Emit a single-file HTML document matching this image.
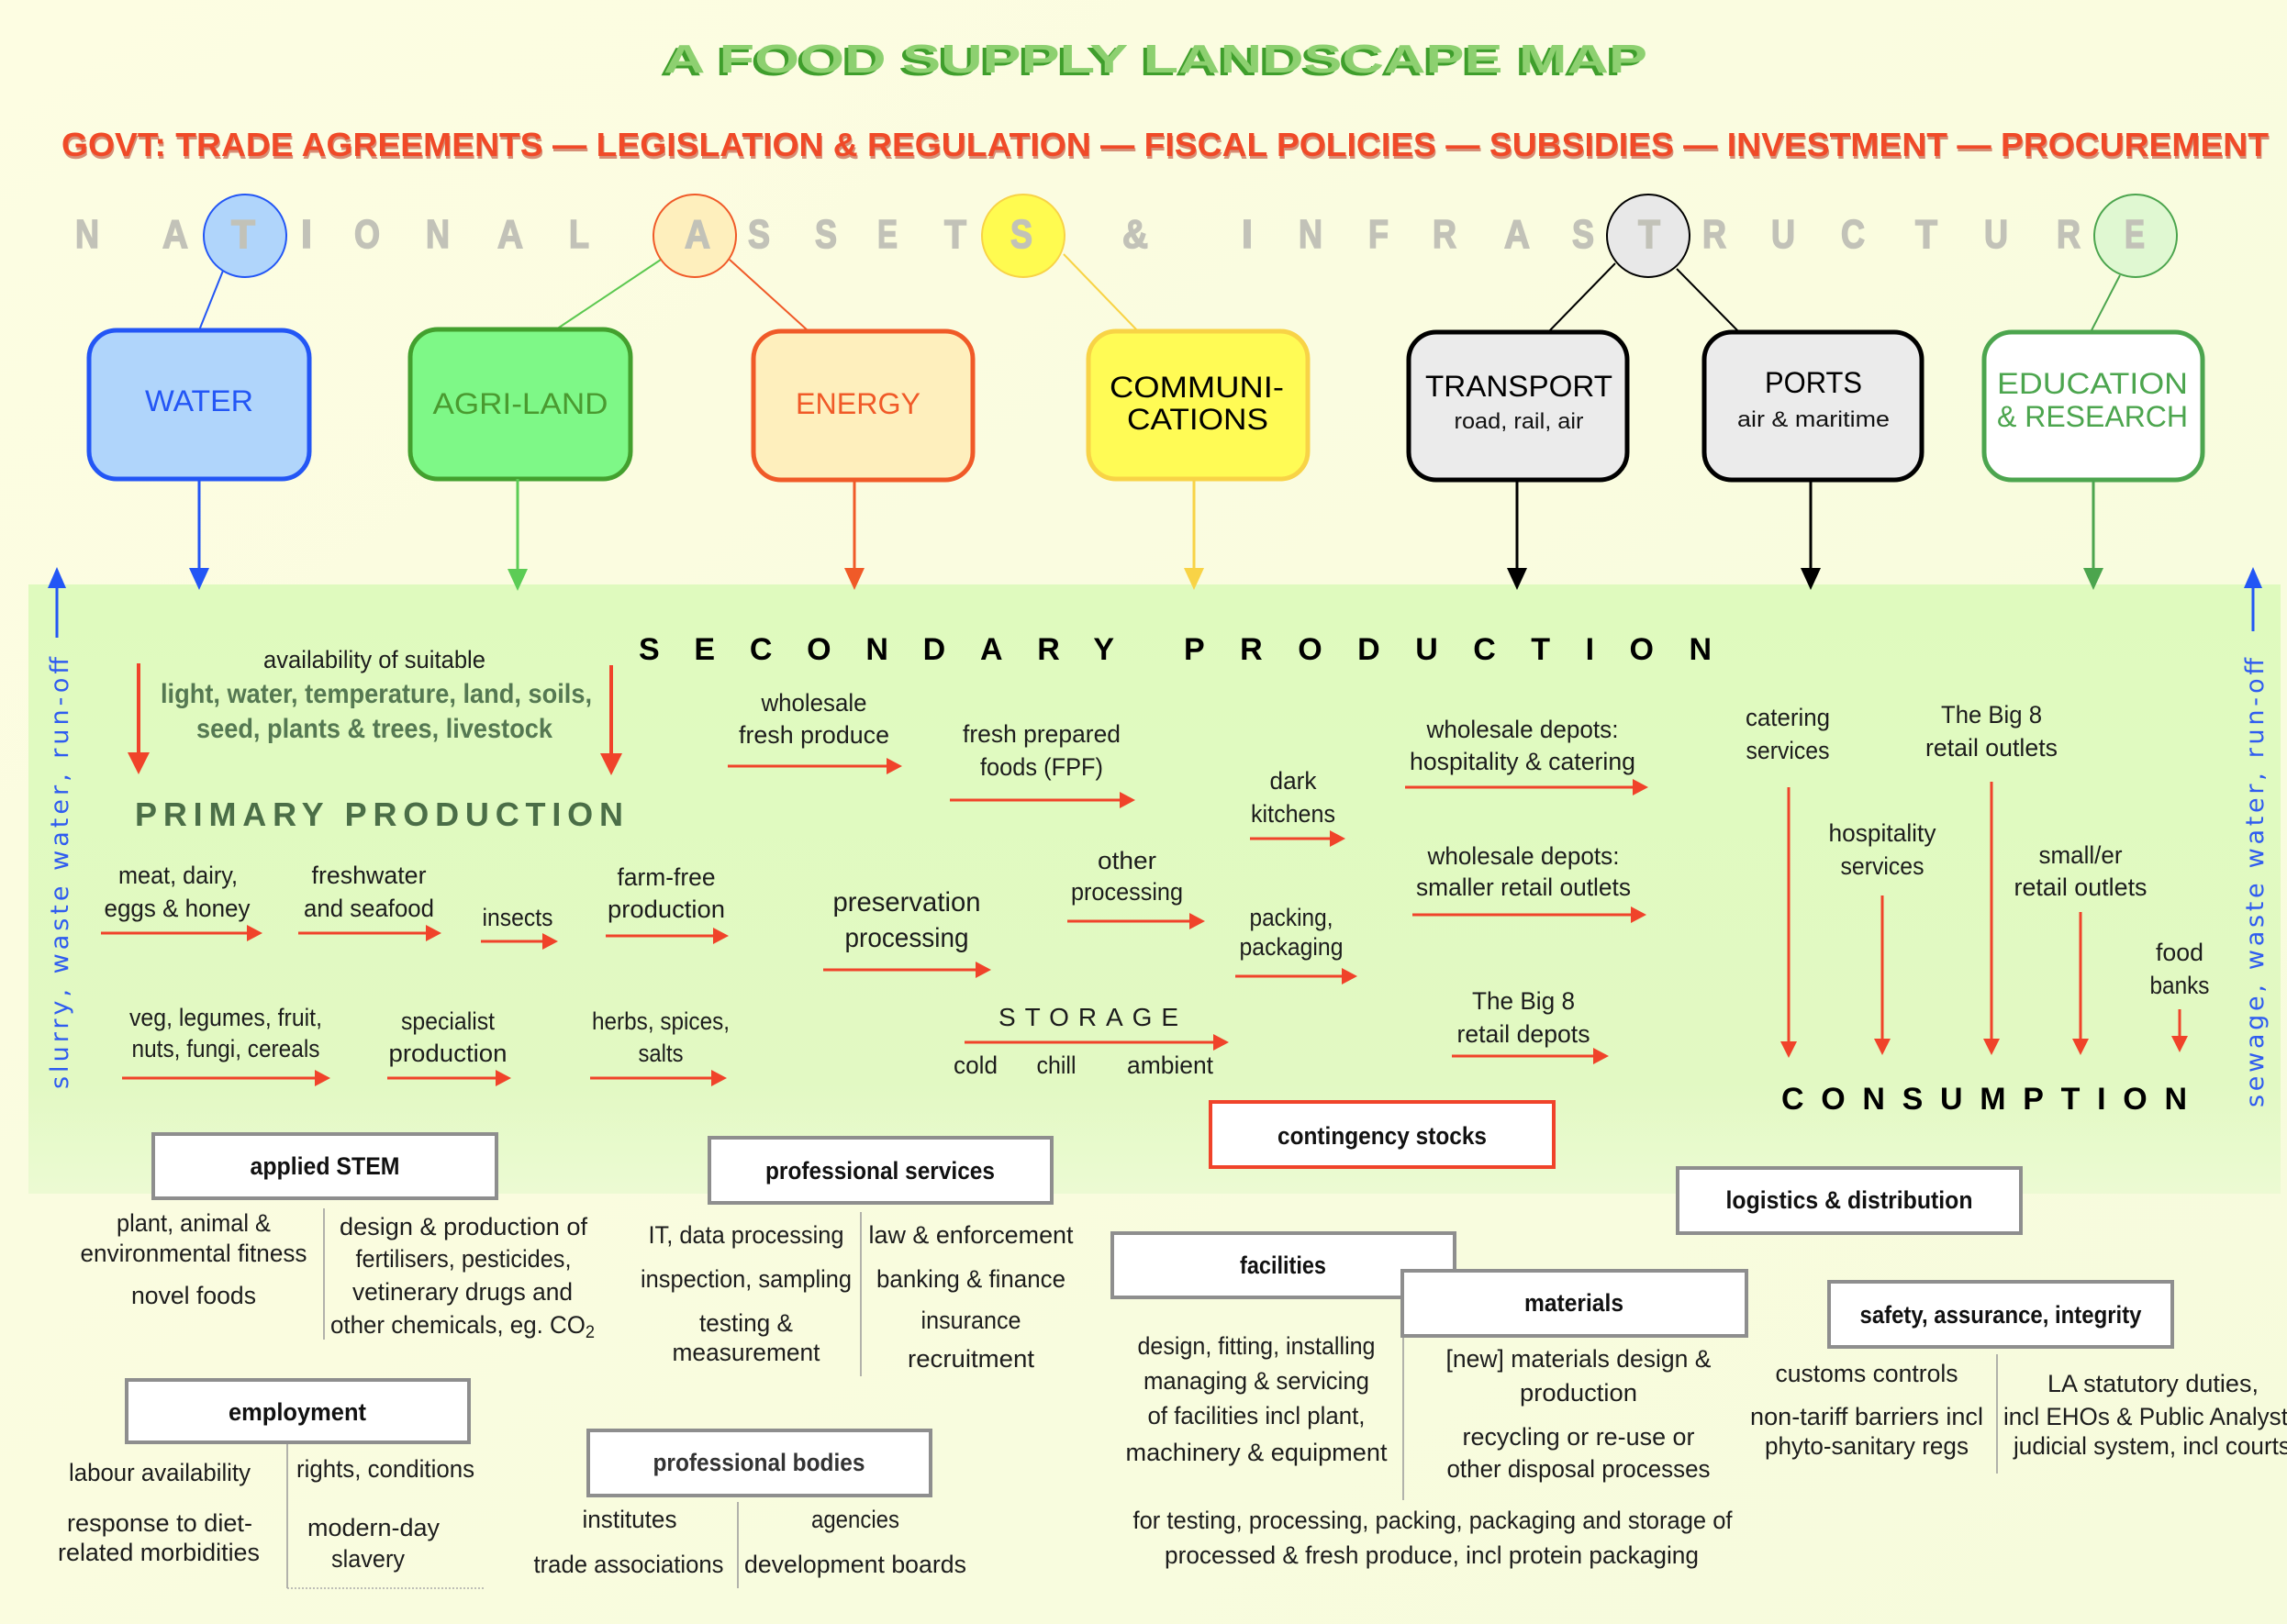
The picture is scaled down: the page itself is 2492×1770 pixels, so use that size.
<!DOCTYPE html>
<html><head><meta charset="utf-8"><style>
html,body{margin:0;padding:0;background:#fdfde0;}
body{width:2492px;height:1770px;overflow:hidden;}
svg{display:block;}
.t{font-size:27px;fill:#1c1c1c;text-anchor:middle;}
.ts{font-size:27px;fill:#1c1c1c;}
.g{font-size:30px;font-weight:bold;fill:#557852;text-anchor:middle;}
.bl{font-size:27px;font-weight:bold;fill:#111;text-anchor:middle;}
.bx{fill:#fff;stroke:#8e8e8e;stroke-width:4;}
.dv{stroke:#9a9a9a;stroke-width:1.5;}
.ra{stroke:#f0432a;stroke-width:3;fill:none;}
.rh{fill:#f0432a;}
.big{font-size:32px;text-anchor:middle;}
.nl{font-size:44px;font-weight:bold;fill:#c2c2b8;stroke:#c2c2b8;stroke-width:1.6;text-anchor:middle;}
</style></head><body>
<svg width="2492" height="1770" viewBox="0 0 2492 1770" xmlns="http://www.w3.org/2000/svg" font-family="'Liberation Sans', sans-serif">
<defs>
<linearGradient id="bg" x1="0" y1="0" x2="1" y2="1">
<stop offset="0" stop-color="#fdfde2"/><stop offset="1" stop-color="#f6fbdc"/>
</linearGradient>
<linearGradient id="gr" x1="0" y1="0" x2="0" y2="1">
<stop offset="0" stop-color="#dffabe"/><stop offset="0.82" stop-color="#e2f9c3"/><stop offset="1" stop-color="#ecfad3"/>
</linearGradient>
</defs>
<rect x="0" y="0" width="2492" height="1770" fill="url(#bg)"/>
<rect x="31" y="637" width="2454" height="664" fill="url(#gr)"/>

<!-- Title -->
<text x="1255" y="82" text-anchor="middle" font-size="44" font-weight="bold" fill="#3f9e2c" textLength="1072" lengthAdjust="spacingAndGlyphs">A FOOD SUPPLY LANDSCAPE MAP</text>
<text x="1259" y="79" text-anchor="middle" font-size="44" font-weight="bold" fill="#8dd070" textLength="1072" lengthAdjust="spacingAndGlyphs">A FOOD SUPPLY LANDSCAPE MAP</text>

<!-- Govt line -->
<text x="68" y="173" font-size="36" font-weight="bold" fill="#b83420" opacity="0.55" textLength="2405" lengthAdjust="spacingAndGlyphs">GOVT: TRADE AGREEMENTS — LEGISLATION &amp; REGULATION — FISCAL POLICIES — SUBSIDIES — INVESTMENT — PROCUREMENT</text>
<text x="67" y="170" font-size="36" font-weight="bold" fill="#f04a28" textLength="2405" lengthAdjust="spacingAndGlyphs">GOVT: TRADE AGREEMENTS — LEGISLATION &amp; REGULATION — FISCAL POLICIES — SUBSIDIES — INVESTMENT — PROCUREMENT</text>

<!-- connector lines circles->boxes -->
<line x1="243" y1="295" x2="217" y2="360" stroke="#2356f5" stroke-width="2"/>
<line x1="720" y1="283" x2="606" y2="359" stroke="#5cc850" stroke-width="2"/>
<line x1="795" y1="283" x2="881" y2="361" stroke="#f05a28" stroke-width="2"/>
<line x1="1159" y1="277" x2="1240" y2="361" stroke="#f8d346" stroke-width="2"/>
<line x1="1760" y1="287" x2="1687" y2="362" stroke="#000" stroke-width="2"/>
<line x1="1827" y1="293" x2="1895" y2="362" stroke="#000" stroke-width="2"/>
<line x1="2310" y1="300" x2="2278" y2="362" stroke="#4ca54e" stroke-width="2"/>

<!-- circles -->
<circle cx="267" cy="257" r="45" fill="#b0d5fb" stroke="#2356f5" stroke-width="2"/>
<circle cx="757" cy="257" r="45" fill="#feefbd" stroke="#f05a28" stroke-width="2"/>
<circle cx="1115" cy="257" r="45" fill="#fffb50" stroke="#f8d346" stroke-width="2"/>
<circle cx="1796" cy="257" r="45" fill="#e8e8e8" stroke="#000" stroke-width="2"/>
<circle cx="2327" cy="257" r="45" fill="#e0f8d2" stroke="#4ca54e" stroke-width="2"/>

<!-- NATIONAL ASSETS & INFRASTRUCTURE letters -->
<g>
<text x="95" y="270" textLength="26" lengthAdjust="spacingAndGlyphs" class="nl">N</text>
<text x="191" y="270" textLength="28" lengthAdjust="spacingAndGlyphs" class="nl">A</text>
<text x="265" y="270" textLength="26" lengthAdjust="spacingAndGlyphs" class="nl">T</text>
<text x="334" y="270" class="nl">I</text>
<text x="400" y="270" textLength="28" lengthAdjust="spacingAndGlyphs" class="nl">O</text>
<text x="477" y="270" textLength="26" lengthAdjust="spacingAndGlyphs" class="nl">N</text>
<text x="556" y="270" textLength="28" lengthAdjust="spacingAndGlyphs" class="nl">A</text>
<text x="631" y="270" textLength="22" lengthAdjust="spacingAndGlyphs" class="nl">L</text>
<text x="760" y="270" textLength="28" lengthAdjust="spacingAndGlyphs" class="nl">A</text>
<text x="827" y="270" textLength="24" lengthAdjust="spacingAndGlyphs" class="nl">S</text>
<text x="900" y="270" textLength="24" lengthAdjust="spacingAndGlyphs" class="nl">S</text>
<text x="967" y="270" textLength="22" lengthAdjust="spacingAndGlyphs" class="nl">E</text>
<text x="1041" y="270" textLength="24" lengthAdjust="spacingAndGlyphs" class="nl">T</text>
<text x="1113" y="270" textLength="24" lengthAdjust="spacingAndGlyphs" class="nl">S</text>
<text x="1237" y="270" textLength="28" lengthAdjust="spacingAndGlyphs" class="nl">&amp;</text>
<text x="1359" y="270" class="nl">I</text>
<text x="1428" y="270" textLength="26" lengthAdjust="spacingAndGlyphs" class="nl">N</text>
<text x="1502" y="270" textLength="22" lengthAdjust="spacingAndGlyphs" class="nl">F</text>
<text x="1574" y="270" textLength="26" lengthAdjust="spacingAndGlyphs" class="nl">R</text>
<text x="1653" y="270" textLength="28" lengthAdjust="spacingAndGlyphs" class="nl">A</text>
<text x="1725" y="270" textLength="24" lengthAdjust="spacingAndGlyphs" class="nl">S</text>
<text x="1797" y="270" textLength="24" lengthAdjust="spacingAndGlyphs" class="nl">T</text>
<text x="1868" y="270" textLength="26" lengthAdjust="spacingAndGlyphs" class="nl">R</text>
<text x="1943" y="270" textLength="26" lengthAdjust="spacingAndGlyphs" class="nl">U</text>
<text x="2019" y="270" textLength="26" lengthAdjust="spacingAndGlyphs" class="nl">C</text>
<text x="2099" y="270" textLength="24" lengthAdjust="spacingAndGlyphs" class="nl">T</text>
<text x="2175" y="270" textLength="26" lengthAdjust="spacingAndGlyphs" class="nl">U</text>
<text x="2254" y="270" textLength="26" lengthAdjust="spacingAndGlyphs" class="nl">R</text>
<text x="2326" y="270" textLength="22" lengthAdjust="spacingAndGlyphs" class="nl">E</text>
</g>

<!-- top boxes -->
<rect x="97" y="360" width="240" height="162" rx="30" fill="#b0d5fb" stroke="#2356f5" stroke-width="5"/>
<rect x="447" y="359" width="240" height="163" rx="30" fill="#7ef887" stroke="#43a02e" stroke-width="5"/>
<rect x="821" y="361" width="239" height="162" rx="30" fill="#feefbd" stroke="#f05a28" stroke-width="5"/>
<rect x="1186" y="361" width="239" height="161" rx="30" fill="#fffb55" stroke="#f8d346" stroke-width="5"/>
<rect x="1535" y="362" width="238" height="161" rx="30" fill="#ebebeb" stroke="#000" stroke-width="5"/>
<rect x="1857" y="362" width="237" height="161" rx="30" fill="#ebebeb" stroke="#000" stroke-width="5"/>
<rect x="2162" y="362" width="238" height="161" rx="30" fill="#ffffff" stroke="#4ca54e" stroke-width="5"/>

<text class="big" x="217" y="448" fill="#2356f5" textLength="118" lengthAdjust="spacingAndGlyphs">WATER</text>
<text class="big" x="567" y="451" fill="#4a9a30" textLength="191" lengthAdjust="spacingAndGlyphs">AGRI-LAND</text>
<text class="big" x="935" y="451" fill="#f05a28" textLength="136" lengthAdjust="spacingAndGlyphs">ENERGY</text>
<text class="big" x="1304" y="433" fill="#000" textLength="190" lengthAdjust="spacingAndGlyphs">COMMUNI-</text>
<text class="big" x="1305" y="468" fill="#000" textLength="154" lengthAdjust="spacingAndGlyphs">CATIONS</text>
<text class="big" x="1655" y="432" fill="#000" textLength="204" lengthAdjust="spacingAndGlyphs">TRANSPORT</text>
<text x="1655" y="467" font-size="24" text-anchor="middle" fill="#111" textLength="141" lengthAdjust="spacingAndGlyphs">road, rail, air</text>
<text class="big" x="1976" y="428" fill="#000" textLength="106" lengthAdjust="spacingAndGlyphs">PORTS</text>
<text x="1976" y="465" font-size="24" text-anchor="middle" fill="#111" textLength="166" lengthAdjust="spacingAndGlyphs">air &amp; maritime</text>
<text class="big" x="2280" y="429" fill="#4ca54e" textLength="208" lengthAdjust="spacingAndGlyphs">EDUCATION</text>
<text class="big" x="2280" y="465" fill="#4ca54e" textLength="208" lengthAdjust="spacingAndGlyphs">&amp; RESEARCH</text>

<!-- top down arrows -->
<g stroke-width="3">
<line x1="217" y1="522" x2="217" y2="625" stroke="#2356f5"/><polygon points="217,643 206,619 228,619" fill="#2356f5"/>
<line x1="564" y1="522" x2="564" y2="625" stroke="#5ccc55"/><polygon points="564,644 553,620 575,620" fill="#5ccc55"/>
<line x1="931" y1="523" x2="931" y2="625" stroke="#f05a28"/><polygon points="931,643 920,619 942,619" fill="#f05a28"/>
<line x1="1301" y1="522" x2="1301" y2="625" stroke="#f8d346"/><polygon points="1301,643 1290,619 1312,619" fill="#f8d346"/>
<line x1="1653" y1="523" x2="1653" y2="625" stroke="#000"/><polygon points="1653,643 1642,619 1664,619" fill="#000"/>
<line x1="1973" y1="523" x2="1973" y2="625" stroke="#000"/><polygon points="1973,643 1962,619 1984,619" fill="#000"/>
<line x1="2281" y1="523" x2="2281" y2="625" stroke="#4ca54e"/><polygon points="2281,643 2270,619 2292,619" fill="#4ca54e"/>
<!-- blue up arrows -->
<line x1="62" y1="695" x2="62" y2="635" stroke="#2356f5"/><polygon points="62,618 52,641 72,641" fill="#2356f5"/>
<line x1="2455" y1="688" x2="2455" y2="635" stroke="#2356f5"/><polygon points="2455,618 2445,641 2465,641" fill="#2356f5"/>
</g>

<!-- vertical side texts -->
<text transform="translate(74,1187) rotate(-90)" font-family="'DejaVu Sans', sans-serif" font-size="27" fill="#2f5cf0" textLength="471" lengthAdjust="spacing">slurry, waste water, run-off</text>
<text transform="translate(2466,1207) rotate(-90)" font-family="'DejaVu Sans', sans-serif" font-size="27" fill="#2f5cf0" textLength="490" lengthAdjust="spacing">sewage, waste water, run-off</text>

<!-- primary production header -->
<text class="t" x="408" y="728" textLength="242" lengthAdjust="spacingAndGlyphs">availability of suitable</text>
<text class="g" x="410" y="766" textLength="470" lengthAdjust="spacingAndGlyphs">light, water, temperature, land, soils,</text>
<text class="g" x="408" y="804" textLength="388" lengthAdjust="spacingAndGlyphs">seed, plants &amp; trees, livestock</text>
<line x1="151" y1="723" x2="151" y2="825" stroke="#f0432a" stroke-width="4"/><polygon points="151,844 139,820 163,820" class="rh"/>
<line x1="666" y1="725" x2="666" y2="826" stroke="#f0432a" stroke-width="4"/><polygon points="666,845 654,821 678,821" class="rh"/>
<text x="147" y="900" font-size="36" font-weight="bold" fill="#4b6e47" textLength="532" lengthAdjust="spacing">PRIMARY PRODUCTION</text>

<!-- SECONDARY PRODUCTION -->
<text x="696" y="719" font-size="34" font-weight="bold" fill="#000" textLength="518" lengthAdjust="spacing">SECONDARY</text>
<text x="1290" y="719" font-size="34" font-weight="bold" fill="#000" textLength="575" lengthAdjust="spacing">PRODUCTION</text>

<!-- primary items -->
<text class="t" x="194" y="963" textLength="130" lengthAdjust="spacingAndGlyphs">meat, dairy,</text>
<text class="t" x="193" y="999" textLength="159" lengthAdjust="spacingAndGlyphs">eggs &amp; honey</text>
<text class="t" x="402" y="963" textLength="125" lengthAdjust="spacingAndGlyphs">freshwater</text>
<text class="t" x="402" y="999" textLength="142" lengthAdjust="spacingAndGlyphs">and seafood</text>
<text class="t" x="564" y="1009" textLength="77" lengthAdjust="spacingAndGlyphs">insects</text>
<text class="t" x="726" y="965" textLength="107" lengthAdjust="spacingAndGlyphs">farm-free</text>
<text class="t" x="726" y="1000" textLength="128" lengthAdjust="spacingAndGlyphs">production</text>
<text class="t" x="246" y="1118" textLength="210" lengthAdjust="spacingAndGlyphs">veg, legumes, fruit,</text>
<text class="t" x="246" y="1152" textLength="205" lengthAdjust="spacingAndGlyphs">nuts, fungi, cereals</text>
<text class="t" x="488" y="1122" textLength="102" lengthAdjust="spacingAndGlyphs">specialist</text>
<text class="t" x="488" y="1157" textLength="129" lengthAdjust="spacingAndGlyphs">production</text>
<text class="t" x="720" y="1122" textLength="150" lengthAdjust="spacingAndGlyphs">herbs, spices,</text>
<text class="t" x="720" y="1157" textLength="49" lengthAdjust="spacingAndGlyphs">salts</text>

<!-- secondary items -->
<text class="t" x="887" y="775" textLength="115" lengthAdjust="spacingAndGlyphs">wholesale</text>
<text class="t" x="887" y="810" textLength="164" lengthAdjust="spacingAndGlyphs">fresh produce</text>
<text class="t" x="1135" y="809" textLength="172" lengthAdjust="spacingAndGlyphs">fresh prepared</text>
<text class="t" x="1135" y="845" textLength="134" lengthAdjust="spacingAndGlyphs">foods (FPF)</text>
<text class="t" x="1409" y="860" textLength="51" lengthAdjust="spacingAndGlyphs">dark</text>
<text class="t" x="1409" y="896" textLength="92" lengthAdjust="spacingAndGlyphs">kitchens</text>
<text class="t" x="1659" y="804" textLength="209" lengthAdjust="spacingAndGlyphs">wholesale depots:</text>
<text class="t" x="1659" y="839" textLength="246" lengthAdjust="spacingAndGlyphs">hospitality &amp; catering</text>
<text class="t" x="1228" y="947" textLength="64" lengthAdjust="spacingAndGlyphs">other</text>
<text class="t" x="1228" y="981" textLength="122" lengthAdjust="spacingAndGlyphs">processing</text>
<text class="t" x="988" y="993" textLength="161" lengthAdjust="spacingAndGlyphs" style="font-size:30px">preservation</text>
<text class="t" x="988" y="1032" textLength="135" lengthAdjust="spacingAndGlyphs" style="font-size:30px">processing</text>
<text class="t" x="1407" y="1009" textLength="91" lengthAdjust="spacingAndGlyphs">packing,</text>
<text class="t" x="1407" y="1041" textLength="113" lengthAdjust="spacingAndGlyphs">packaging</text>
<text class="t" x="1660" y="942" textLength="209" lengthAdjust="spacingAndGlyphs">wholesale depots:</text>
<text class="t" x="1660" y="976" textLength="234" lengthAdjust="spacingAndGlyphs">smaller retail outlets</text>
<text x="1088" y="1118" font-size="28" fill="#1c1c1c" textLength="196" lengthAdjust="spacing">STORAGE</text>
<text class="t" x="1063" y="1170" textLength="48" lengthAdjust="spacingAndGlyphs">cold</text>
<text class="t" x="1151" y="1170" textLength="43" lengthAdjust="spacingAndGlyphs">chill</text>
<text class="t" x="1275" y="1170" textLength="94" lengthAdjust="spacingAndGlyphs">ambient</text>
<text class="t" x="1660" y="1100" textLength="112" lengthAdjust="spacingAndGlyphs">The Big 8</text>
<text class="t" x="1660" y="1136" textLength="145" lengthAdjust="spacingAndGlyphs">retail depots</text>

<!-- consumption items -->
<text class="t" x="1948" y="791" textLength="92" lengthAdjust="spacingAndGlyphs">catering</text>
<text class="t" x="1948" y="827" textLength="91" lengthAdjust="spacingAndGlyphs">services</text>
<text class="t" x="2170" y="788" textLength="110" lengthAdjust="spacingAndGlyphs">The Big 8</text>
<text class="t" x="2170" y="824" textLength="144" lengthAdjust="spacingAndGlyphs">retail outlets</text>
<text class="t" x="2051" y="917" textLength="117" lengthAdjust="spacingAndGlyphs">hospitality</text>
<text class="t" x="2051" y="953" textLength="91" lengthAdjust="spacingAndGlyphs">services</text>
<text class="t" x="2267" y="941" textLength="91" lengthAdjust="spacingAndGlyphs">small/er</text>
<text class="t" x="2267" y="976" textLength="145" lengthAdjust="spacingAndGlyphs">retail outlets</text>
<text class="t" x="2375" y="1047" textLength="52" lengthAdjust="spacingAndGlyphs">food</text>
<text class="t" x="2375" y="1083" textLength="65" lengthAdjust="spacingAndGlyphs">banks</text>
<text x="1941" y="1209" font-size="34" font-weight="bold" fill="#000" textLength="442" lengthAdjust="spacing">CONSUMPTION</text>

<!-- horizontal red arrows -->
<g>
<line class="ra" x1="110" y1="1017" x2="276" y2="1017"/><polygon class="rh" points="286,1017 269,1008 269,1026"/>
<line class="ra" x1="325" y1="1017" x2="471" y2="1017"/><polygon class="rh" points="481,1017 464,1008 464,1026"/>
<line class="ra" x1="524" y1="1026" x2="598" y2="1026"/><polygon class="rh" points="608,1026 591,1017 591,1035"/>
<line class="ra" x1="660" y1="1020" x2="784" y2="1020"/><polygon class="rh" points="794,1020 777,1011 777,1029"/>
<line class="ra" x1="133" y1="1175" x2="350" y2="1175"/><polygon class="rh" points="360,1175 343,1166 343,1184"/>
<line class="ra" x1="422" y1="1175" x2="547" y2="1175"/><polygon class="rh" points="557,1175 540,1166 540,1184"/>
<line class="ra" x1="643" y1="1175" x2="782" y2="1175"/><polygon class="rh" points="792,1175 775,1166 775,1184"/>
<line class="ra" x1="793" y1="835" x2="973" y2="835"/><polygon class="rh" points="983,835 966,826 966,844"/>
<line class="ra" x1="1035" y1="872" x2="1227" y2="872"/><polygon class="rh" points="1237,872 1220,863 1220,881"/>
<line class="ra" x1="1362" y1="914" x2="1456" y2="914"/><polygon class="rh" points="1466,914 1449,905 1449,923"/>
<line class="ra" x1="1531" y1="858" x2="1786" y2="858"/><polygon class="rh" points="1796,858 1779,849 1779,867"/>
<line class="ra" x1="1163" y1="1004" x2="1303" y2="1004"/><polygon class="rh" points="1313,1004 1296,995 1296,1013"/>
<line class="ra" x1="897" y1="1057" x2="1070" y2="1057"/><polygon class="rh" points="1080,1057 1063,1048 1063,1066"/>
<line class="ra" x1="1346" y1="1064" x2="1469" y2="1064"/><polygon class="rh" points="1479,1064 1462,1055 1462,1073"/>
<line class="ra" x1="1539" y1="997" x2="1784" y2="997"/><polygon class="rh" points="1794,997 1777,988 1777,1006"/>
<line class="ra" x1="1051" y1="1136" x2="1329" y2="1136"/><polygon class="rh" points="1339,1136 1322,1127 1322,1145"/>
<line class="ra" x1="1582" y1="1151" x2="1743" y2="1151"/><polygon class="rh" points="1753,1151 1736,1142 1736,1160"/>
</g>
<!-- vertical red arrows to consumption -->
<g>
<line class="ra" x1="1949" y1="858" x2="1949" y2="1138"/><polygon class="rh" points="1949,1153 1940,1135 1958,1135"/>
<line class="ra" x1="2051" y1="976" x2="2051" y2="1135"/><polygon class="rh" points="2051,1150 2042,1132 2060,1132"/>
<line class="ra" x1="2170" y1="852" x2="2170" y2="1135"/><polygon class="rh" points="2170,1150 2161,1132 2179,1132"/>
<line class="ra" x1="2267" y1="994" x2="2267" y2="1135"/><polygon class="rh" points="2267,1150 2258,1132 2276,1132"/>
<line class="ra" x1="2375" y1="1100" x2="2375" y2="1132"/><polygon class="rh" points="2375,1147 2366,1129 2384,1129"/>
</g>

<!-- contingency stocks -->
<rect x="1319" y="1201" width="374" height="71" fill="#fff" stroke="#f0432a" stroke-width="4"/>
<text class="bl" x="1506" y="1247" textLength="228" lengthAdjust="spacingAndGlyphs">contingency stocks</text>

<!-- applied STEM -->
<rect class="bx" x="167" y="1236" width="374" height="70"/>
<text class="bl" x="354" y="1280" textLength="163" lengthAdjust="spacingAndGlyphs">applied STEM</text>
<line class="dv" x1="353" y1="1317" x2="353" y2="1460"/>
<text class="t" x="211" y="1342" textLength="168" lengthAdjust="spacingAndGlyphs">plant, animal &amp;</text>
<text class="t" x="211" y="1375" textLength="247" lengthAdjust="spacingAndGlyphs">environmental fitness</text>
<text class="t" x="211" y="1421" textLength="136" lengthAdjust="spacingAndGlyphs">novel foods</text>
<text class="t" x="505" y="1346" textLength="270" lengthAdjust="spacingAndGlyphs">design &amp; production of</text>
<text class="t" x="505" y="1381" textLength="235" lengthAdjust="spacingAndGlyphs">fertilisers, pesticides,</text>
<text class="t" x="504" y="1417" textLength="240" lengthAdjust="spacingAndGlyphs">vetinerary drugs and</text>
<text class="t" x="504" y="1453" textLength="288" lengthAdjust="spacingAndGlyphs">other chemicals, eg. CO<tspan font-size="19" dy="5">2</tspan></text>

<!-- employment -->
<rect class="bx" x="138" y="1504" width="373" height="68"/>
<text class="bl" x="324" y="1548" textLength="150" lengthAdjust="spacingAndGlyphs">employment</text>
<line class="dv" x1="313" y1="1574" x2="313" y2="1731"/>
<line x1="313" y1="1731" x2="527" y2="1731" stroke="#aaa" stroke-width="1.5" stroke-dasharray="2,2"/>
<text class="t" x="174" y="1614" textLength="198" lengthAdjust="spacingAndGlyphs">labour availability</text>
<text class="t" x="174" y="1669" textLength="202" lengthAdjust="spacingAndGlyphs">response to diet-</text>
<text class="t" x="173" y="1701" textLength="220" lengthAdjust="spacingAndGlyphs">related morbidities</text>
<text class="t" x="420" y="1610" textLength="194" lengthAdjust="spacingAndGlyphs">rights, conditions</text>
<text class="t" x="407" y="1674" textLength="144" lengthAdjust="spacingAndGlyphs">modern-day</text>
<text class="t" x="401" y="1708" textLength="80" lengthAdjust="spacingAndGlyphs">slavery</text>

<!-- professional services -->
<rect class="bx" x="773" y="1240" width="373" height="71"/>
<text class="bl" x="959" y="1285" textLength="250" lengthAdjust="spacingAndGlyphs">professional services</text>
<line class="dv" x1="938" y1="1321" x2="938" y2="1500"/>
<text class="t" x="813" y="1355" textLength="213" lengthAdjust="spacingAndGlyphs">IT, data processing</text>
<text class="t" x="813" y="1403" textLength="230" lengthAdjust="spacingAndGlyphs">inspection, sampling</text>
<text class="t" x="813" y="1451" textLength="102" lengthAdjust="spacingAndGlyphs">testing &amp;</text>
<text class="t" x="813" y="1483" textLength="161" lengthAdjust="spacingAndGlyphs">measurement</text>
<text class="t" x="1058" y="1355" textLength="223" lengthAdjust="spacingAndGlyphs">law &amp; enforcement</text>
<text class="t" x="1058" y="1403" textLength="206" lengthAdjust="spacingAndGlyphs">banking &amp; finance</text>
<text class="t" x="1058" y="1448" textLength="109" lengthAdjust="spacingAndGlyphs">insurance</text>
<text class="t" x="1058" y="1490" textLength="138" lengthAdjust="spacingAndGlyphs">recruitment</text>

<!-- professional bodies -->
<rect class="bx" x="641" y="1559" width="373" height="71"/>
<text class="bl" x="827" y="1603" textLength="231" lengthAdjust="spacingAndGlyphs" style="fill:#333">professional bodies</text>
<line class="dv" x1="804" y1="1637" x2="804" y2="1731"/>
<text class="t" x="686" y="1665" textLength="103" lengthAdjust="spacingAndGlyphs">institutes</text>
<text class="t" x="685" y="1714" textLength="207" lengthAdjust="spacingAndGlyphs">trade associations</text>
<text class="t" x="932" y="1665" textLength="96" lengthAdjust="spacingAndGlyphs">agencies</text>
<text class="t" x="932" y="1714" textLength="242" lengthAdjust="spacingAndGlyphs">development boards</text>

<!-- facilities -->
<rect class="bx" x="1212" y="1344" width="373" height="70"/>
<text class="bl" x="1398" y="1388" textLength="94" lengthAdjust="spacingAndGlyphs">facilities</text>
<!-- materials -->
<rect class="bx" x="1528" y="1385" width="375" height="71"/>
<text class="bl" x="1715" y="1429" textLength="108" lengthAdjust="spacingAndGlyphs">materials</text>
<line class="dv" x1="1529" y1="1458" x2="1529" y2="1635"/>
<text class="t" x="1369" y="1476" textLength="259" lengthAdjust="spacingAndGlyphs">design, fitting, installing</text>
<text class="t" x="1369" y="1514" textLength="246" lengthAdjust="spacingAndGlyphs">managing &amp; servicing</text>
<text class="t" x="1369" y="1552" textLength="237" lengthAdjust="spacingAndGlyphs">of facilities incl plant,</text>
<text class="t" x="1369" y="1592" textLength="285" lengthAdjust="spacingAndGlyphs">machinery &amp; equipment</text>
<text class="t" x="1720" y="1490" textLength="289" lengthAdjust="spacingAndGlyphs">[new] materials design &amp;</text>
<text class="t" x="1720" y="1527" textLength="128" lengthAdjust="spacingAndGlyphs">production</text>
<text class="t" x="1720" y="1575" textLength="253" lengthAdjust="spacingAndGlyphs">recycling or re-use or</text>
<text class="t" x="1720" y="1610" textLength="287" lengthAdjust="spacingAndGlyphs">other disposal processes</text>
<text class="t" x="1561" y="1666" textLength="653" lengthAdjust="spacingAndGlyphs">for testing, processing, packing, packaging and storage of</text>
<text class="t" x="1560" y="1704" textLength="582" lengthAdjust="spacingAndGlyphs">processed &amp; fresh produce, incl protein packaging</text>

<!-- logistics -->
<rect class="bx" x="1828" y="1273" width="374" height="71"/>
<text class="bl" x="2015" y="1317" textLength="269" lengthAdjust="spacingAndGlyphs">logistics &amp; distribution</text>

<!-- safety -->
<rect class="bx" x="1993" y="1397" width="374" height="71"/>
<text class="bl" x="2180" y="1442" textLength="307" lengthAdjust="spacingAndGlyphs">safety, assurance, integrity</text>
<line class="dv" x1="2176" y1="1476" x2="2176" y2="1606"/>
<text class="t" x="2034" y="1506" textLength="199" lengthAdjust="spacingAndGlyphs">customs controls</text>
<text class="t" x="2034" y="1553" textLength="254" lengthAdjust="spacingAndGlyphs">non-tariff barriers incl</text>
<text class="t" x="2034" y="1585" textLength="222" lengthAdjust="spacingAndGlyphs">phyto-sanitary regs</text>
<text class="t" x="2346" y="1517" textLength="230" lengthAdjust="spacingAndGlyphs">LA statutory duties,</text>
<text class="ts" x="2183" y="1553" textLength="323" lengthAdjust="spacingAndGlyphs">incl EHOs &amp; Public Analysts</text>
<text class="ts" x="2194" y="1585" textLength="302" lengthAdjust="spacingAndGlyphs">judicial system, incl courts</text>
</svg>
</body></html>
